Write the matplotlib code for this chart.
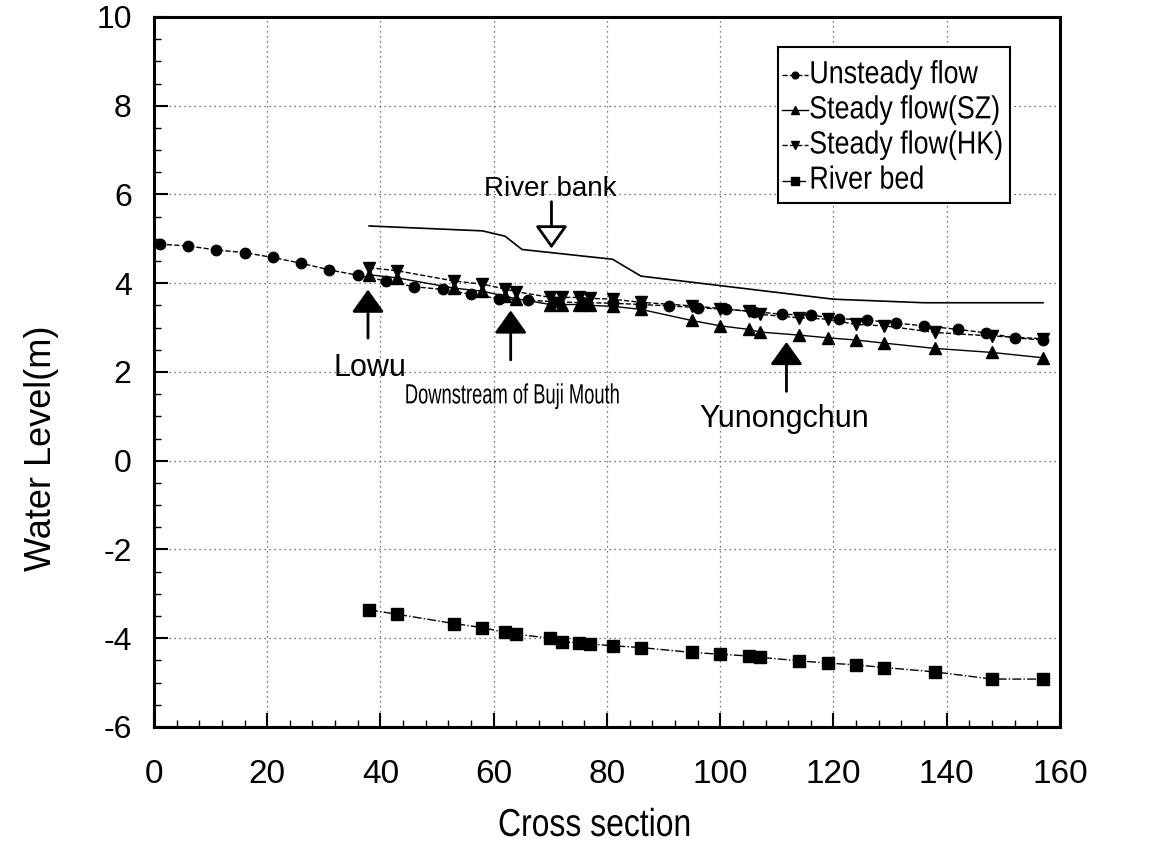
import matplotlib
matplotlib.use('Agg')
import matplotlib.pyplot as plt
from matplotlib.ticker import MultipleLocator
from matplotlib.patheffects import AbstractPathEffect
from matplotlib.transforms import Affine2D
from matplotlib.lines import Line2D
from matplotlib.patches import Rectangle

# water levels (m) along the river
unsteady_x = [1, 6, 11, 16, 21, 26, 31, 36, 41, 46, 51, 56, 61, 66, 71, 76, 81, 86,
              91, 96, 101, 106, 111, 116, 121, 126, 131, 136, 142, 147, 152, 157]
unsteady_y = [4.88, 4.84, 4.75, 4.69, 4.58, 4.45, 4.30, 4.18, 4.05, 3.92, 3.86, 3.75,
              3.65, 3.62, 3.58, 3.56, 3.55, 3.52, 3.49, 3.45, 3.41, 3.36, 3.30, 3.28,
              3.20, 3.17, 3.10, 3.04, 2.96, 2.88, 2.77, 2.72]

steady_x = [38, 43, 53, 58, 62, 64, 70, 72, 75, 77, 81, 86, 95, 100, 105, 107,
            114, 119, 124, 129, 138, 148, 157]
sz_y = [4.19, 4.12, 3.89, 3.82, 3.71, 3.65, 3.52, 3.52, 3.52, 3.50, 3.48, 3.41,
        3.16, 3.04, 2.96, 2.90, 2.83, 2.77, 2.72, 2.65, 2.53, 2.44, 2.32]
hk_y = [4.35, 4.28, 4.05, 3.98, 3.87, 3.81, 3.68, 3.68, 3.68, 3.66, 3.64, 3.57,
        3.49, 3.43, 3.37, 3.30, 3.22, 3.19, 3.07, 3.04, 2.89, 2.81, 2.75]
bed_y = [-3.36, -3.46, -3.67, -3.76, -3.87, -3.91, -4.00, -4.08, -4.10, -4.13, -4.17,
         -4.21, -4.32, -4.36, -4.40, -4.43, -4.51, -4.56, -4.60, -4.66, -4.76, -4.92, -4.92]

bank_x = [38, 58, 62, 65, 81, 86, 120, 136, 157]
bank_y = [5.29, 5.18, 5.06, 4.76, 4.54, 4.16, 3.64, 3.56, 3.56]

labels = ['Unsteady flow', 'Steady flow(SZ)', 'Steady flow(HK)', 'River bed']


class Squeeze(AbstractPathEffect):
    # narrow the glyphs horizontally (no Arial Narrow installed)
    def __init__(self, sx, anchor='center'):
        super().__init__()
        self.sx = sx
        self.anchor = anchor

    def draw_path(self, renderer, gc, tpath, affine, rgbFace=None):
        ext = tpath.get_extents()
        cx = ext.x0 if self.anchor == 'left' else (ext.x0 + ext.x1) / 2
        t = Affine2D().translate(-cx, 0).scale(self.sx, 1).translate(cx, 0)
        renderer.draw_path(gc, tpath, t + affine, rgbFace)


plt.rcParams['font.family'] = ['Liberation Sans', 'DejaVu Sans']
plt.rcParams['axes.unicode_minus'] = False

fig = plt.figure(figsize=(11.68, 8.48), dpi=100)
ax = fig.add_axes([0.1318, 0.1427, 0.7757, 0.8373])

styles = [('--', 'o', 7.5), ('-', '^', 9), ('--', 'v', 9), ('-.', 's', 9)]
series = [(unsteady_x, unsteady_y), (steady_x, sz_y), (steady_x, hk_y), (steady_x, bed_y)]
for (xs, ys), (ls, mk, ms) in zip(series, styles):
    ax.plot(xs, ys, color='black', ls=ls, lw=1, marker=mk, ms=ms)
ax.plot(bank_x, bank_y, color='black', ls='-', lw=1.2)

ax.set_xlim(0, 160)
ax.set_ylim(-6, 10)
ax.xaxis.set_major_locator(MultipleLocator(20))
ax.xaxis.set_minor_locator(MultipleLocator(4))
ax.yaxis.set_major_locator(MultipleLocator(2))
ax.yaxis.set_minor_locator(MultipleLocator(0.5))
ax.tick_params(which='major', direction='in', length=10, width=1.5)
ax.tick_params(which='minor', direction='in', length=5, width=1)
ax.tick_params(axis='x', pad=23, labelsize=24)
ax.tick_params(axis='y', pad=16, labelsize=23)
ax.grid(True, which='major', color='0.3', ls=(0, (1, 3)), lw=0.9)
for s in ax.spines.values():
    s.set_linewidth(2.2)

fig.text(0.509, 0.026, 'Cross section', fontsize=28, ha='center', va='center',
         path_effects=[Squeeze(0.82)])
ax.set_ylabel('Water Level(m)', fontsize=26)
ax.yaxis.set_label_coords(-0.124, 0.392)
ax.yaxis.label.set_va('center')

# legend box drawn in axes coordinates
ax.add_patch(Rectangle((0.689, 0.738), 0.256, 0.22, transform=ax.transAxes,
                       facecolor='white', edgecolor='black', lw=1.5, zorder=5))
for i, (lab, (ls, mk, ms)) in enumerate(zip(labels, styles)):
    yy = 0.918 - i * 0.0495
    ax.add_line(Line2D([0.693, 0.722], [yy, yy], transform=ax.transAxes, color='black',
                       ls=ls, lw=1, zorder=6))
    ax.add_line(Line2D([0.7075], [yy], transform=ax.transAxes, color='black',
                       marker=mk, ms=ms * 0.65, zorder=6))
    ax.text(0.723, yy, lab, transform=ax.transAxes, fontsize=23, ha='left',
            va='center', zorder=7, path_effects=[Squeeze(0.84, 'left')])

arrow = dict(arrowstyle='-|>,head_width=0.5,head_length=0.7', color='black',
             lw=2, mutation_scale=20)
ax.annotate('', xy=(37.8, 3.92), xytext=(37.8, 2.70), arrowprops=arrow)
ax.annotate('', xy=(63, 3.45), xytext=(63, 2.21), arrowprops=arrow)
ax.annotate('', xy=(111.7, 2.74), xytext=(111.7, 1.5), arrowprops=arrow)
ax.annotate('', xy=(70.2, 4.72), xytext=(70.2, 5.9),
            arrowprops=dict(arrowstyle='-|>,head_width=0.5,head_length=0.7',
                            facecolor='white', edgecolor='black', lw=2,
                            mutation_scale=20))

ax.text(38.2, 2.08, 'Lowu', fontsize=22, ha='center', va='center')
ax.text(63.2, 1.45, 'Downstream of Buji Mouth', fontsize=20, ha='center',
        va='center', path_effects=[Squeeze(0.66)])
ax.text(111.3, 0.93, 'Yunongchun', fontsize=22, ha='center', va='center')
ax.text(70.0, 6.12, 'River bank', fontsize=20, ha='center', va='center')

fig.savefig('out.png', dpi=100)
